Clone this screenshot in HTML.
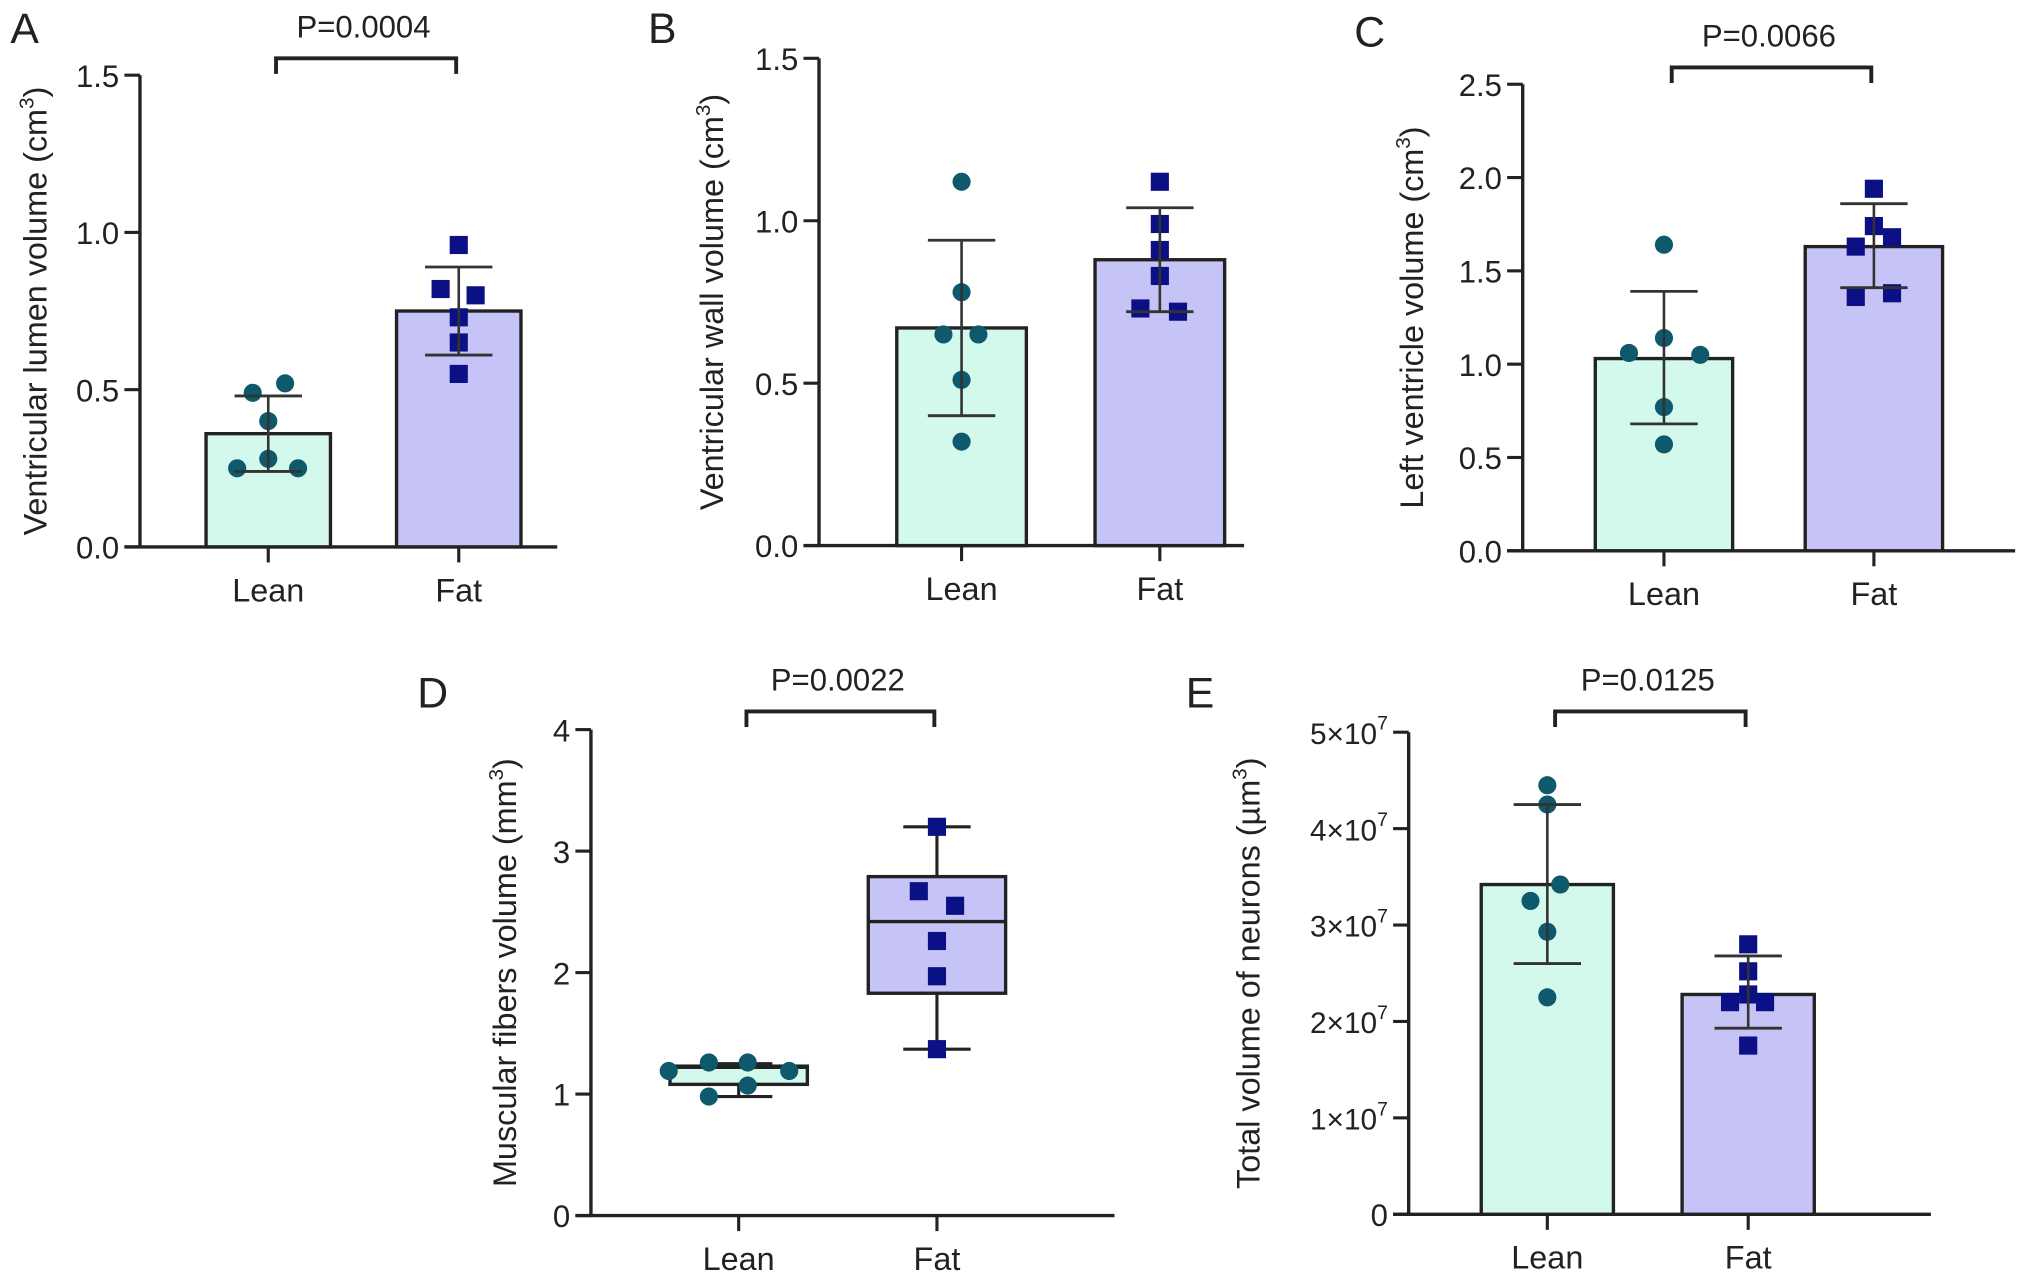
<!DOCTYPE html>
<html><head><meta charset="utf-8"><style>
html,body{margin:0;padding:0;background:#fff}
svg{display:block}
text{font-family:"Liberation Sans",Arial,sans-serif;fill:#222}
</style></head><body>
<svg id="fig" width="2032" height="1280" viewBox="0 0 1568 987.7" xmlns="http://www.w3.org/2000/svg"></svg>
<script>
// ---- data ----
const categories = ["Lean", "Fat"];
const aMeans = [0.36, 0.75];
const aSD = [[0.24, 0.48], [0.61, 0.89]];
const aLeanPts = [0.49, 0.52, 0.40, 0.28, 0.25, 0.25];
const aFatPts = [0.96, 0.82, 0.80, 0.73, 0.65, 0.55];
const aTicks = ["0.0", "0.5", "1.0", "1.5"];
const bMeans = [0.67, 0.88];
const bSD = [[0.40, 0.94], [0.72, 1.04]];
const bLeanPts = [1.12, 0.78, 0.65, 0.65, 0.51, 0.32];
const bFatPts = [1.12, 0.99, 0.91, 0.83, 0.73, 0.72];
const bTicks = ["0.0", "0.5", "1.0", "1.5"];
const cMeans = [1.03, 1.63];
const cSD = [[0.68, 1.39], [1.41, 1.86]];
const cLeanPts = [1.64, 1.14, 1.06, 1.05, 0.77, 0.57];
const cFatPts = [1.94, 1.74, 1.63, 1.68, 1.36, 1.38];
const cTicks = ["0.0", "0.5", "1.0", "1.5", "2.0", "2.5"];
const dLeanBox = [0.98, 1.08, 1.22, 1.23, 1.25]; // min,q1,med,q3,max
const dFatBox = [1.37, 1.83, 2.42, 2.79, 3.20];
const dLeanPts = [1.19, 1.26, 1.26, 1.19, 1.07, 0.98];
const dFatPts = [3.20, 2.67, 2.55, 2.26, 1.97, 1.37];
const dTicks = ["0", "1", "2", "3", "4"];
const eMeans = [3.42, 2.28];
const eSD = [[2.60, 4.25], [1.93, 2.68]];
const eLeanPts = [4.45, 4.25, 3.42, 3.25, 2.93, 2.25];
const eFatPts = [2.80, 2.52, 2.28, 2.20, 2.20, 1.75];
const eTicks = ["0", "1", "2", "3", "4", "5"];
const pValues = ["P=0.0004", "P=0.0066", "P=0.0022", "P=0.0125"];

// horizontal scatter offsets (layout only, px)
const aOff = [[-12, 13, 0, 0, -24, 23], [0, -14, 13, 0, 0, 0]];
const bOff = [[0, 0, -14, 13, 0, 0], [0, 0, 0, 0, -15, 14]];
const cOff = [[0, 0, -27, 28, 0, 0], [0, 0, -14, 14, -14, 14]];
const dOff = [[-54, -23, 7, 39, 7, -23], [0, -14, 14, 0, 0, 0]];
const eOff = [[0, 0, 10, -13, 0, 0], [0, 0, 0, -14, 13, 0]];

const NS = "http://www.w3.org/2000/svg";
const svg = document.getElementById("fig");
function el(tag, attrs, parent, txt) {
  const e = document.createElementNS(NS, tag);
  for (const k in attrs) e.setAttribute(k, attrs[k]);
  if (txt !== undefined) e.textContent = txt;
  (parent || svg).appendChild(e);
  return e;
}
const LEAN_FILL = "#d3f8ec", FAT_FILL = "#c6c4f6", DOT = "#0e5a6c", SQ = "#0b1184", LINE = "#222";

function panel(cfg) {
  const g = el("g", { });
  const ys = v => cfg.y0 - (v - cfg.vmin) / (cfg.vmax - cfg.vmin) * (cfg.y0 - cfg.ytop);
  const xc = [cfg.xl, cfg.xf];
  const L = el("text", {x: cfg.lx, y: cfg.ly, "font-size": 33}, g, cfg.letter);
  
  
  const ya = el("line", {x1: cfg.ax, y1: cfg.y0, x2: cfg.ax, y2: cfg.ytop, stroke: LINE, "stroke-width": 2.6}, g);
  
  
  const xa = el("line", {x1: cfg.ax - 12, y1: cfg.y0, x2: cfg.xend, y2: cfg.y0, stroke: LINE, "stroke-width": 2.6}, g);
  
  
  cfg.ticks.forEach((t, i) => {
    const v = cfg.vmin + i * cfg.step;
    const y = ys(v);
    el("line", {x1: cfg.ax - 12, y1: y, x2: cfg.ax, y2: y, stroke: LINE, "stroke-width": 2.4}, g);
    let tx;
    if (cfg.sci && t !== "0") {
      tx = el("text", {x: cfg.ax - 16, y: y + 9, "font-size": 23, "text-anchor": "end"}, g);
      tx.textContent = t + "×10";
      el("tspan", {dy: -11, "font-size": 15}, tx, "7");
    } else {
      tx = el("text", {x: cfg.ax - 16, y: y + 9, "font-size": 24, "text-anchor": "end"}, g, t);
    }
    
    
  });
  categories.forEach((c, i) => {
    el("line", {x1: xc[i], y1: cfg.y0, x2: xc[i], y2: cfg.y0 + 12, stroke: LINE, "stroke-width": 2.4}, g);
    const t = el("text", {x: xc[i], y: cfg.y0 + 42, "font-size": 25, "text-anchor": "middle"}, g, c);
    
    
  });
  const tt = el("text", {x: 0, y: 0, "font-size": 25, "text-anchor": "middle", transform: `translate(${cfg.tx},${(cfg.y0 + cfg.ytop) / 2}) rotate(-90)`}, g);
  tt.textContent = cfg.title;
  el("tspan", {dy: -10, "font-size": 16}, tt, "3");
  el("tspan", {dy: 10}, tt, ")");
  
  
  const fills = [LEAN_FILL, FAT_FILL];
  const bw = cfg.bw;
  if (cfg.means) {
    cfg.means.forEach((m, i) => {
      const r = el("rect", {x: xc[i] - bw / 2, y: ys(m), width: bw, height: cfg.y0 - ys(m), fill: fills[i], stroke: LINE, "stroke-width": 2.6}, g);
      
      
    });
  }
  if (cfg.box) {
    cfg.box.forEach((b, i) => {
      el("line", {x1: xc[i], y1: ys(b[0]), x2: xc[i], y2: ys(b[4]), stroke: LINE, "stroke-width": 2.4}, g);
      el("line", {x1: xc[i] - 26, y1: ys(b[0]), x2: xc[i] + 26, y2: ys(b[0]), stroke: LINE, "stroke-width": 2.4}, g);
      el("line", {x1: xc[i] - 26, y1: ys(b[4]), x2: xc[i] + 26, y2: ys(b[4]), stroke: LINE, "stroke-width": 2.4}, g);
      const r = el("rect", {x: xc[i] - bw / 2, y: ys(b[3]), width: bw, height: ys(b[1]) - ys(b[3]), fill: fills[i], stroke: LINE, "stroke-width": 2.6}, g);
      
      
      el("line", {x1: xc[i] - bw / 2, y1: ys(b[2]), x2: xc[i] + bw / 2, y2: ys(b[2]), stroke: LINE, "stroke-width": 2.6}, g);
    });
  }
  [cfg.leanPts, cfg.fatPts].forEach((pts, i) => {
    pts.forEach((v, k) => {
      const x = xc[i] + cfg.off[i][k];
      let p;
      if (i === 0) p = el("circle", {cx: x, cy: ys(v), r: 7, fill: DOT}, g);
      else p = el("rect", {x: x - 7, y: ys(v) - 7, width: 14, height: 14, fill: SQ}, g);
      
      
    });
  });
  if (cfg.sd) {
    cfg.sd.forEach((s, i) => {
      el("line", {x1: xc[i], y1: ys(s[0]), x2: xc[i], y2: ys(s[1]), stroke: "#333", "stroke-width": 2}, g);
      [s[0], s[1]].forEach(v => el("line", {x1: xc[i] - 26, y1: ys(v), x2: xc[i] + 26, y2: ys(v), stroke: "#333", "stroke-width": 2.2}, g));
    });
  }
  if (cfg.p) {
    const b = el("path", {d: `M${xc[0] + 6},${cfg.by + 12} V${cfg.by} H${xc[1] - 2} V${cfg.by + 12}`, fill: "none", stroke: LINE, "stroke-width": 3}, g);
    
    
    const pt = el("text", {x: (xc[0] + xc[1]) / 2, y: cfg.by - 16, "font-size": 24, "text-anchor": "middle"}, g, cfg.p);
    
    
  }
}

panel({name: "panel-a", letter: "A", lx: 8, ly: 33, ax: 108, y0: 422, ytop: 58, vmin: 0, vmax: 1.5, step: 0.5, ticks: aTicks, xend: 430, xl: 207, xf: 354, bw: 96, means: aMeans, sd: aSD, leanPts: aLeanPts, fatPts: aFatPts, off: aOff, title: "Ventricular lumen volume (cm", tx: 36, p: pValues[0], by: 45});
panel({name: "panel-b", letter: "B", lx: 500, ly: 33, ax: 632, y0: 421, ytop: 45, vmin: 0, vmax: 1.5, step: 0.5, ticks: bTicks, xend: 960, xl: 742, xf: 895, bw: 100, means: bMeans, sd: bSD, leanPts: bLeanPts, fatPts: bFatPts, off: bOff, title: "Ventricular wall volume (cm", tx: 558});
panel({name: "panel-c", letter: "C", lx: 1045, ly: 36, ax: 1175, y0: 425, ytop: 65, vmin: 0, vmax: 2.5, step: 0.5, ticks: cTicks, xend: 1555, xl: 1284, xf: 1446, bw: 106, means: cMeans, sd: cSD, leanPts: cLeanPts, fatPts: cFatPts, off: cOff, title: "Left ventricle volume (cm", tx: 1098, p: pValues[1], by: 52});
panel({name: "panel-d", letter: "D", lx: 322, ly: 546, ax: 456, y0: 938, ytop: 563, vmin: 0, vmax: 4, step: 1, ticks: dTicks, xend: 860, xl: 570, xf: 723, bw: 106, box: [dLeanBox, dFatBox], leanPts: dLeanPts, fatPts: dFatPts, off: dOff, title: "Muscular fibers volume (mm", tx: 398, p: pValues[2], by: 549});
panel({name: "panel-e", letter: "E", lx: 915, ly: 546, ax: 1087, y0: 937, ytop: 565, vmin: 0, vmax: 5, step: 1, ticks: eTicks, sci: true, xend: 1490, xl: 1194, xf: 1349, bw: 102, means: eMeans, sd: eSD, leanPts: eLeanPts, fatPts: eFatPts, off: eOff, title: "Total volume of neurons (µm", tx: 972, p: pValues[3], by: 549});
</script>
</body></html>
